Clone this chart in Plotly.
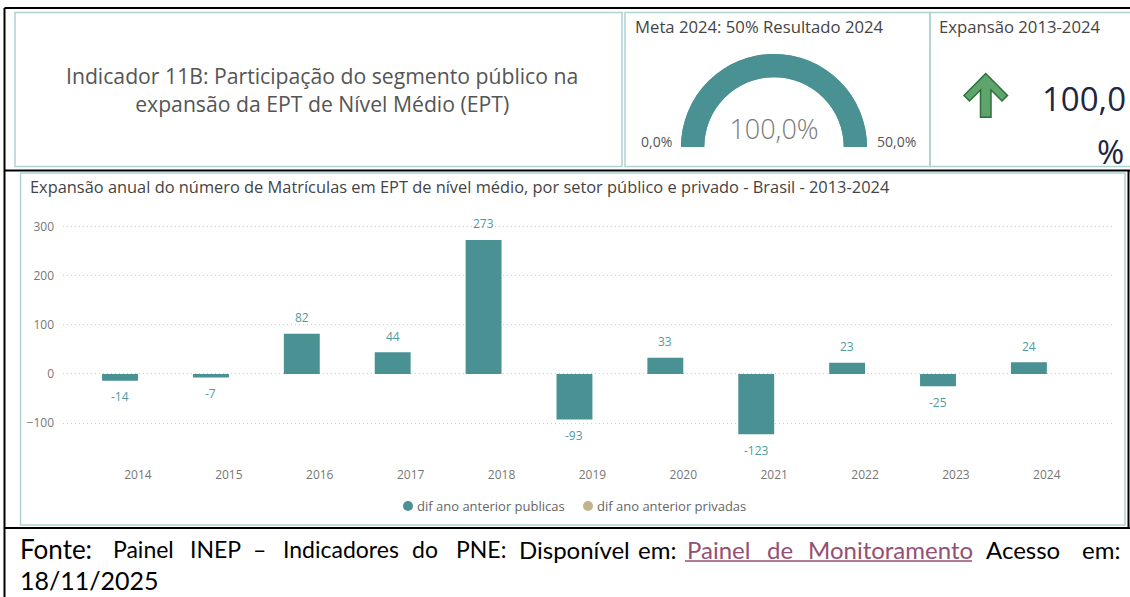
import plotly.graph_objects as go

# ---------------- data ----------------
anos = ["2014", "2015", "2016", "2017", "2018", "2019", "2020", "2021", "2022", "2023", "2024"]
dif_publicas = [-14, -7, 82, 44, 273, -93, 33, -123, 23, -25, 24]
dif_privadas = [None] * len(anos)
serie_nomes = ["dif ano anterior publicas", "dif ano anterior privadas"]
y_ticks = [-100, 0, 100, 200, 300]

meta_ano = 2024
meta_pct = 50
gauge_min = 0.0
gauge_max = 50.0
resultado_pct = 100.0
expansao_pct = 100.0

# ---------------- style ----------------
W, H = 1130, 597
TEAL = "#4a9194"
TEAL_LABEL = "#4f9c9f"
TAN = "#c2b38a"
PANEL = "#aed2d4"
LINK = "#954f72"
FONT = "Segoe UI, Open Sans, sans-serif"
DOC_FONT = "Lato, Carlito, Calibri, sans-serif"
BAR_GAP = 0.21


def px(x):
    return x / W


def py(y):
    return 1 - y / H


def br(v):
    return f"{v:.1f}".replace(".", ",")


def label(x, y, text, size, color, family=FONT, xanchor="center", yanchor="middle", **kw):
    return dict(x=px(x), y=py(y), xref="paper", yref="paper", showarrow=False,
                xanchor=xanchor, yanchor=yanchor, text=text,
                font=dict(family=family, size=size, color=color), **kw)


fig = go.Figure()

# bars: two series grouped per year
fig.add_bar(x=anos, y=dif_publicas, name=serie_nomes[0], marker_color=TEAL,
            marker_line_width=0, showlegend=False)
fig.add_bar(x=anos, y=dif_privadas, name=serie_nomes[1], marker_color=TAN,
            marker_line_width=0, showlegend=False)

# gauge
fig.add_trace(go.Indicator(
    mode="gauge+number",
    value=resultado_pct,
    number={"suffix": "%", "valueformat": ".1f",
            "font": {"size": 27, "color": "#7a7a7a", "family": FONT, "weight": 300}},
    gauge={"shape": "angular",
           "axis": {"range": [gauge_min, gauge_max], "visible": False},
           "bar": {"color": TEAL, "thickness": 1},
           "bgcolor": TEAL, "borderwidth": 0},
    domain={"x": [px(681), px(867)], "y": [py(147), py(54)]},
))

shapes = []
annotations = []

# panel frames
for x0, y0, x1, y1 in [(15, 12.5, 622, 166.5), (625, 12.5, 930, 166.5),
                       (930, 12.5, 1131, 166.5), (20.5, 173, 1125, 525)]:
    shapes.append(dict(type="rect", xref="paper", yref="paper",
                       x0=px(x0), x1=px(x1), y0=py(y1), y1=py(y0),
                       line=dict(color=PANEL, width=1.5), layer="below"))

# table rules
for x0, y0, x1, y1 in [(4.5, 8, 1130, 8), (4.5, 170.5, 1130, 170.5),
                       (4.5, 528, 1130, 528), (4.5, 8, 4.5, 597),
                       (1128.5, 170.5, 1128.5, 528)]:
    shapes.append(dict(type="line", xref="paper", yref="paper",
                       x0=px(x0), x1=px(x1), y0=py(y0), y1=py(y1),
                       line=dict(color="#000000", width=2)))

# up arrow icon
arrow = [(985.7, 73.5), (1007.5, 95.5), (1002, 101), (991, 90), (991, 117.3),
         (980.5, 117.3), (980.5, 90), (969.5, 101), (964, 95.5)]
path = "M " + " L ".join(f"{px(a):.5f},{py(b):.5f}" for a, b in arrow) + " Z"
shapes.append(dict(type="path", xref="paper", yref="paper", path=path,
                   fillcolor="#5ea46b", line=dict(color="#2f6e3d", width=1.5)))

# title panel
annotations.append(label(
    322, 90,
    "Indicador 11B: Participação do segmento público na<br>expansão da EPT de Nível Médio (EPT)",
    21.2, "#555555", align="center"))

# gauge panel texts
annotations.append(label(633, 27, f"Meta {meta_ano}: {meta_pct}% Resultado {meta_ano}",
                         16.7, "#444444", xanchor="left"))
annotations.append(label(656, 141, f"{br(gauge_min)}%", 14, "#555555"))
annotations.append(label(896, 141, f"{br(gauge_max)}%", 14, "#555555"))

# KPI panel texts
annotations.append(label(937, 27, f"Expansão 2013-{meta_ano}", 16.7, "#444444", xanchor="left"))
annotations.append(label(1128, 99, br(expansao_pct), 33, "#1e2640", xanchor="right"))
annotations.append(label(1126, 151, "%", 33, "#1e2640", xanchor="right"))

# chart title
annotations.append(label(
    28, 186,
    "Expansão anual do número de Matrículas em EPT de nível médio, por setor público e privado - Brasil - 2013-2024",
    16.4, "#444444", xanchor="left"))

# data labels for the public series (left bar of each group)
offset = -(1 - BAR_GAP) / 4
for i, v in enumerate(dif_publicas):
    annotations.append(dict(
        x=i + offset, y=v, xref="x", yref="y", showarrow=False,
        xanchor="center", yanchor="middle",
        text=str(v), yshift=16 if v >= 0 else -16,
        font=dict(family=FONT, size=12, color=TEAL_LABEL)))

# legend line: colour dot + series name
for cx, nome, cor in [(408, serie_nomes[0], TEAL), (588, serie_nomes[1], TAN)]:
    shapes.append(dict(type="circle", xref="paper", yref="paper",
                       x0=px(cx - 5), x1=px(cx + 5), y0=py(511), y1=py(501),
                       fillcolor=cor, line=dict(width=0)))
    annotations.append(label(cx + 7, 506, nome, 13, "#666666", xanchor="left"))

# source line (justified words)
src_words = [
    ("Fonte:", 18, 26, "#000000"),
    ("Painel", 111, 23, "#000000"),
    ("INEP", 188, 23, "#000000"),
    ("–", 251, 23, "#000000"),
    ("Indicadores", 281, 23, "#000000"),
    ("do", 410, 23, "#000000"),
    ("PNE:", 454, 23, "#000000"),
    ("Disponível", 517, 24, "#000000"),
    ("em:", 636, 24, "#000000"),
    ("Painel", 685, 24, LINK),
    ("de", 765, 24, LINK),
    ("Monitoramento", 806, 24, LINK),
    ("Acesso", 984, 24, "#000000"),
    ("em:", 1080, 24, "#000000"),
]
for word, x, size, color in src_words:
    annotations.append(label(x, 549, word, size, color, family=DOC_FONT, xanchor="left"))
shapes.append(dict(type="line", xref="paper", yref="paper",
                   x0=px(685), x1=px(972), y0=py(561), y1=py(561),
                   line=dict(color=LINK, width=1.5)))
annotations.append(label(18, 580, "18/11/2025", 25, "#000000", family=DOC_FONT, xanchor="left"))

fig.update_layout(
    width=W, height=H,
    margin=dict(l=0, r=0, t=0, b=0),
    paper_bgcolor="white", plot_bgcolor="white",
    separators=",.",
    barmode="group", bargap=BAR_GAP, bargroupgap=0,
    showlegend=False,
    font=dict(family=FONT),
    shapes=shapes, annotations=annotations,
    xaxis=dict(domain=[px(63), px(1115)], range=[-0.825, 10.75],
               type="category", showgrid=False, zeroline=False, showline=False,
               ticks="", tickfont=dict(size=12, color="#777777"), fixedrange=True),
    yaxis=dict(domain=[py(466), py(212)], range=[-187.5, 330],
               tickvals=y_ticks, showgrid=True, gridcolor="#cccccc", griddash="1px,3px",
               gridwidth=1, zeroline=False, showline=False, ticks="",
               ticklabelstandoff=8,
               tickfont=dict(size=12, color="#777777"), fixedrange=True),
)

fig.write_html("out.html")
